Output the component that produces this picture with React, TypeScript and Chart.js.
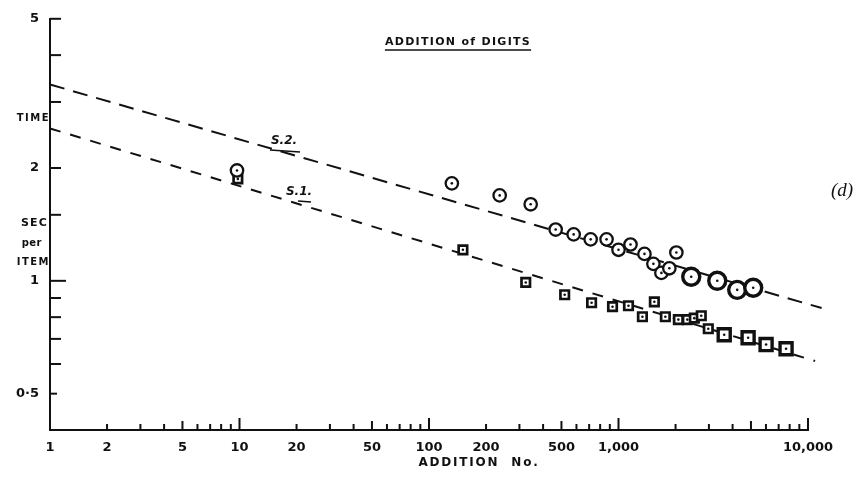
import { useEffect, useRef } from "react";
import { Chart, registerables } from "chart.js";

Chart.register(...registerables);

// ---- data ----
const s2X = [9.7, 132, 236, 344, 466, 580, 713, 865, 1000, 1157, 1371, 1528, 1684, 1855, 2020, 2420, 3320, 4230, 5140];
const s2Y = [1.97, 1.82, 1.69, 1.6, 1.37, 1.33, 1.29, 1.29, 1.21, 1.25, 1.18, 1.11, 1.05, 1.08, 1.19, 1.025, 1.0, 0.946, 0.958];
const s1X = [9.8, 151, 324, 520, 721, 930, 1129, 1337, 1546, 1767, 2070, 2307, 2512, 2734, 2977, 3613, 4830, 6010, 7660];
const s1Y = [1.87, 1.21, 0.99, 0.918, 0.874, 0.853, 0.858, 0.802, 0.879, 0.802, 0.788, 0.788, 0.795, 0.807, 0.745, 0.718, 0.705, 0.676, 0.659];
const s2FitX = [1, 11800];
const s2FitY = [3.34, 0.846];
const s1FitX = [1, 10900];
const s1FitY = [2.55, 0.611];

const xLabelValues = [1, 2, 5, 10, 20, 50, 100, 200, 500, 1000, 10000];
const xLabelTexts = ["1", "2", "5", "10", "20", "50", "100", "200", "500", "1,000", "10,000"];
const yLabelValues = [0.5, 1, 2, 5];
const yLabelTexts = ["0·5", "1", "2", "5"];
const yTickValues = [0.5, 0.6, 0.7, 0.8, 0.9, 1, 1.5, 2, 3, 4, 5];
const xDecades = [1, 10, 100, 1000];
const LARGE_COUNT = 4;

const INK = "#111";

function pts(xs: number[], ys: number[]) {
  return xs.map((x, i) => ({ x, y: ys[i] }));
}

const decor = {
  id: "decor",
  afterDraw(chart: any) {
    const { ctx, scales } = chart;
    const x = scales.x;
    const y = scales.y;
    const bottom = y.getPixelForValue(0.4);
    const left = x.getPixelForValue(1);
    ctx.save();
    ctx.strokeStyle = INK;
    ctx.fillStyle = INK;
    ctx.lineWidth = 2;
    ctx.lineCap = "butt";
    // x ticks (inward)
    const xTicks: number[] = [];
    xDecades.forEach((d) => {
      for (let k = 1; k <= 9; k++) xTicks.push(d * k);
    });
    xTicks.push(10000);
    xTicks.forEach((v) => {
      if (v === 1) return;
      const px = x.getPixelForValue(v);
      const m = v / Math.pow(10, Math.floor(Math.log10(v) + 1e-9));
      const len = Math.abs(m - 1) < 1e-6 ? 12 : Math.abs(m - 5) < 1e-6 ? 9 : 6;
      ctx.beginPath();
      ctx.moveTo(px, bottom);
      ctx.lineTo(px, bottom - len);
      ctx.stroke();
    });
    // y ticks (inward)
    yTickValues.forEach((v) => {
      const py = y.getPixelForValue(v);
      const len = v === 1 ? 16 : v === 0.5 ? 7 : 11;
      ctx.beginPath();
      ctx.moveTo(left, py);
      ctx.lineTo(left + len, py);
      ctx.stroke();
    });

    const txt = (s: string, tx: number, ty: number, font: string, align: CanvasTextAlign, spacing = "0px") => {
      ctx.font = font;
      (ctx as any).letterSpacing = spacing;
      ctx.textAlign = align;
      ctx.textBaseline = "middle";
      ctx.fillText(s, tx, ty);
      const w = ctx.measureText(s).width;
      (ctx as any).letterSpacing = "0px";
      return w;
    };

    // title
    const tw = txt("ADDITION of DIGITS", 458, 42, 'bold 11px "DejaVu Sans"', "center", "1.3px");
    ctx.lineWidth = 1.3;
    ctx.beginPath();
    ctx.moveTo(458 - tw / 2, 50);
    ctx.lineTo(458 + tw / 2, 50);
    ctx.stroke();

    // axis title
    txt("ADDITION  No.", 479, 463, 'bold 12px "DejaVu Sans"', "center", "1.8px");

    // y axis words
    txt("TIME", 50, 118, 'bold 10px "DejaVu Sans"', "right", "1.5px");
    txt("SEC", 48, 223, 'bold 11px "DejaVu Sans"', "right", "1.2px");
    txt("per", 42, 243, 'bold 10px "DejaVu Sans"', "right", "0.5px");
    txt("ITEM", 50, 262, 'bold 10px "DejaVu Sans"', "right", "1.5px");

    // series labels
    txt("S.2.", 284, 141, 'italic bold 12px "DejaVu Sans"', "center");
    ctx.lineWidth = 1.5;
    ctx.beginPath();
    ctx.moveTo(270, 150);
    ctx.lineTo(300, 152);
    ctx.stroke();
    txt("S.1.", 299, 192, 'italic bold 12px "DejaVu Sans"', "center");
    ctx.beginPath();
    ctx.moveTo(298, 201);
    ctx.lineTo(311, 202);
    ctx.stroke();

    // panel letter
    txt("(d)", 842, 191, 'italic 19px "Liberation Serif"', "center");
    ctx.restore();
  },
};

export default function App() {
  const ref = useRef<HTMLCanvasElement | null>(null);
  useEffect(() => {
    document.body.style.margin = "0";
    const canvas = ref.current!;
    const c2d = canvas.getContext("2d") as any;
    if (c2d) c2d.letterSpacing = "1px";
    const big = (n: number) => (c: any) => c.dataIndex >= n - LARGE_COUNT;
    const isBig2 = big(s2X.length);
    const isBig1 = big(s1X.length);
    const chart = new Chart(canvas, {
      type: "scatter",
      data: {
        datasets: [
          {
            data: pts(s2X, s2Y),
            pointStyle: "circle",
            pointRadius: 1.3,
            pointBackgroundColor: INK,
            pointBorderWidth: 0,
            showLine: false,
          } as any,
          {
            data: pts(s1X, s1Y),
            pointStyle: "circle",
            pointRadius: 1.3,
            pointBackgroundColor: INK,
            pointBorderWidth: 0,
            showLine: false,
          } as any,
          {
            data: pts(s2X, s2Y),
            pointStyle: "circle",
            pointRadius: (c: any) => (isBig2(c) ? 8.5 : 6.2),
            pointBorderWidth: (c: any) => (isBig2(c) ? 3.4 : 2.3),
            pointBackgroundColor: "#fff",
            pointBorderColor: INK,
            showLine: false,
          } as any,
          {
            data: pts(s1X, s1Y),
            pointStyle: "rect",
            pointRadius: (c: any) => (isBig1(c) ? 8.5 : 6),
            pointBorderWidth: (c: any) => (isBig1(c) ? 3.4 : 2.7),
            pointBackgroundColor: "#fff",
            pointBorderColor: INK,
            showLine: false,
          } as any,
          {
            data: pts(s2FitX, s2FitY),
            showLine: true,
            borderColor: INK,
            borderWidth: 2,
            borderDash: [15, 9],
            pointRadius: 0,
            clip: false,
          } as any,
          {
            data: pts(s1FitX, s1FitY),
            showLine: true,
            borderColor: INK,
            borderWidth: 2,
            borderDash: [11, 10],
            pointRadius: 0,
            clip: false,
          } as any,
        ],
      },
      options: {
        responsive: false,
        animation: false,
        devicePixelRatio: 1,
        layout: { padding: { top: 17, right: 59, left: 0, bottom: 0 } },
        plugins: { legend: { display: false }, tooltip: { enabled: false }, title: { display: false } },
        scales: {
          x: {
            type: "logarithmic",
            min: 1,
            max: 10000,
            afterBuildTicks: (s: any) => {
              s.ticks = xLabelValues.map((v) => ({ value: v }));
            },
            afterFit: (s: any) => {
              s.height = 49;
            },
            grid: { display: false, drawTicks: false },
            border: { display: true, color: INK, width: 2 },
            ticks: {
              autoSkip: false,
              maxRotation: 0,
              padding: 10,
              color: INK,
              font: { family: "DejaVu Sans", size: 13, weight: "bold" },
              callback: (_v: any, i: number) => xLabelTexts[i],
            },
          },
          y: {
            type: "logarithmic",
            min: 0.4,
            max: 5,
            afterBuildTicks: (s: any) => {
              s.ticks = yLabelValues.map((v) => ({ value: v }));
            },
            afterFit: (s: any) => {
              s.width = 50;
            },
            grid: { display: false, drawTicks: false },
            border: { display: true, color: INK, width: 2 },
            ticks: {
              autoSkip: false,
              padding: 11,
              color: INK,
              font: { family: "DejaVu Sans", size: 13, weight: "bold" },
              callback: (_v: any, i: number) => yLabelTexts[i],
            },
          },
        },
      } as any,
      plugins: [decor],
    });
    return () => chart.destroy();
  }, []);
  return (
    <div style={{ position: "absolute", left: 0, top: 0, width: 867, height: 479, background: "#fff" }}>
      <canvas ref={ref} width={867} height={479} />
    </div>
  );
}
